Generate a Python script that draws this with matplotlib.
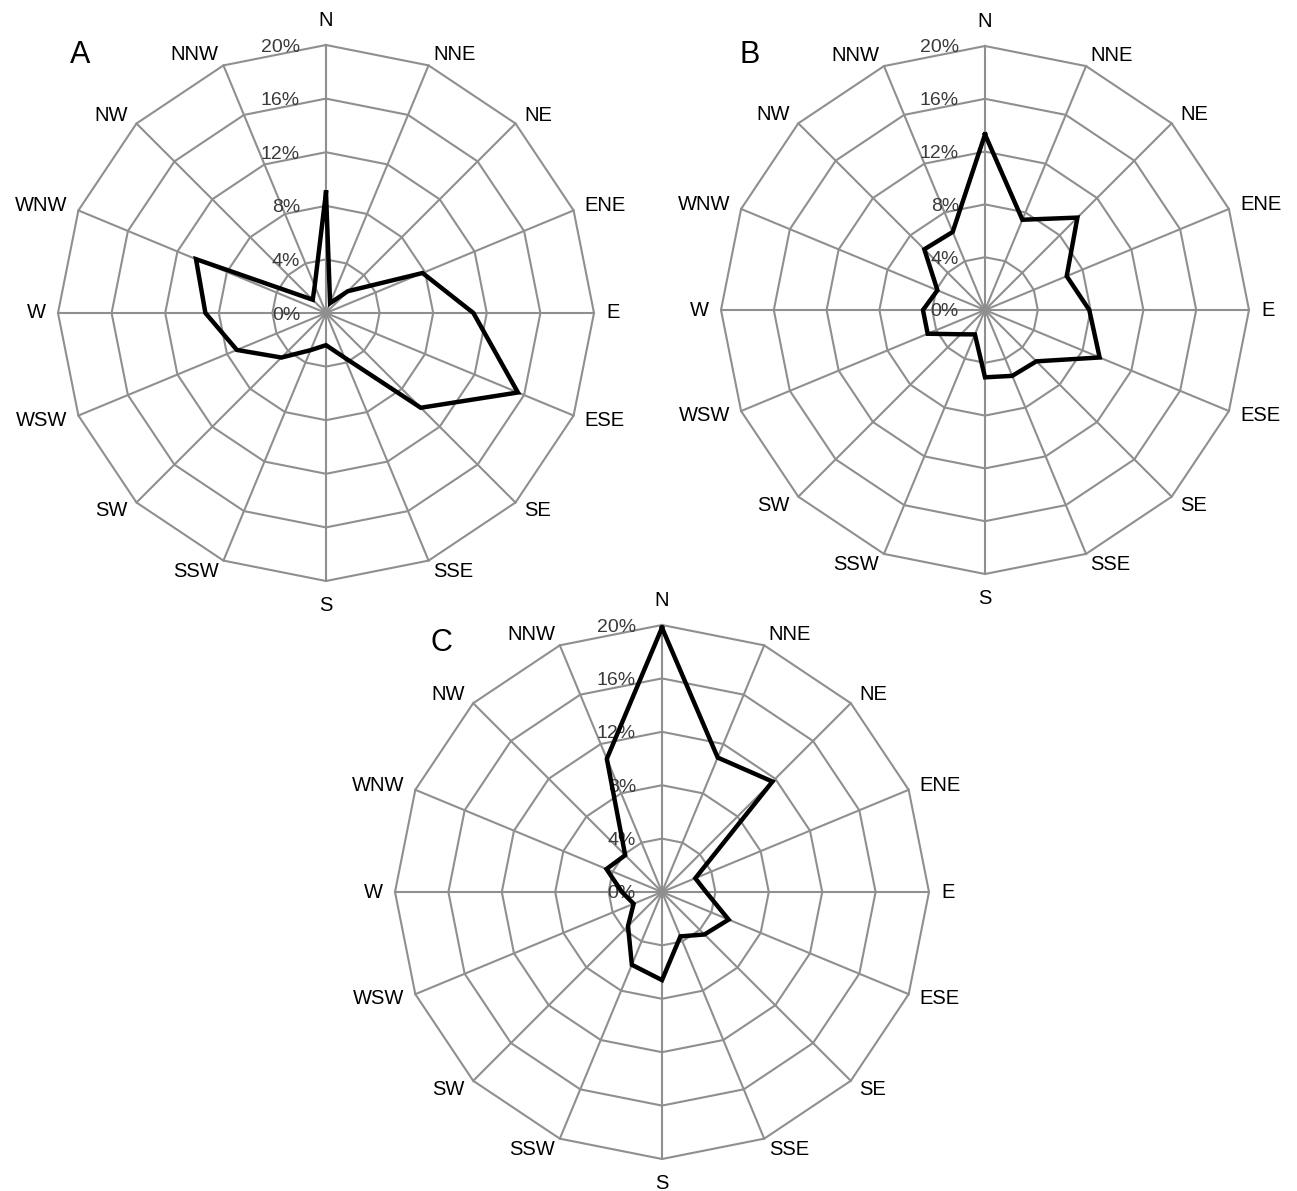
import numpy as np
import matplotlib
matplotlib.use('Agg')
import matplotlib.pyplot as plt

plt.rcParams['font.family'] = ['Liberation Sans', 'DejaVu Sans']

# ============== DATA ==============
directions = ['N', 'NNE', 'NE', 'ENE', 'E', 'ESE', 'SE', 'SSE',
              'S', 'SSW', 'SW', 'WSW', 'W', 'WNW', 'NW', 'NNW']
rings = [4, 8, 12, 16, 20]
ring_ticks = [0, 4, 8, 12, 16, 20]

# frequency (%) per direction
freq_a = [9.0, 0.8, 2.3, 7.8, 11.0, 15.5, 10.0, 3.6, 2.4, 3.0, 4.7, 7.2, 9.0, 10.5, 1.4, 2.2]
freq_b = [13.3, 7.4, 9.9, 6.7, 7.9, 9.4, 5.5, 5.4, 5.1, 2.0, 2.6, 4.7, 4.7, 3.9, 6.5, 6.4]
freq_c = [19.8, 10.9, 11.7, 2.7, 3.3, 5.4, 4.5, 3.6, 6.6, 5.9, 3.6, 2.3, 3.0, 4.5, 3.9, 10.8]
# ==================================

W, H = 1297, 1191
fig = plt.figure(figsize=(W / 100, H / 100), dpi=100)
fig.patch.set_facecolor('white')

theta = np.linspace(0, 2 * np.pi, len(directions), endpoint=False)
theta_closed = np.append(theta, theta[0])
gray = '#8f8f8f'


def rose(cx, cy, rad, values, letter, lx, ly):
    # axes sized so that 20% sits at rad pixels from the centre
    half = rad * 21 / 20
    ax = fig.add_axes([(cx - half) / W, (H - cy - half) / H, 2 * half / W, 2 * half / H],
                      projection='polar')
    ax.set_theta_zero_location('N')
    ax.set_theta_direction(-1)
    ax.set_ylim(0, 21)
    ax.grid(False)
    ax.spines['polar'].set_visible(False)
    ax.set_xticks([])
    ax.set_yticks([])
    ax.patch.set_alpha(0)

    # polygon rings and spokes
    for r in rings:
        ax.plot(theta_closed, [r] * len(theta_closed), color=gray, lw=1.5, zorder=1)
    for t in theta:
        ax.plot([t, t], [0, rings[-1]], color=gray, lw=1.5, zorder=1)

    # data
    v = np.append(values, values[0])
    ax.plot(theta_closed, v, color='black', lw=3.2, solid_joinstyle='miter', zorder=3)

    # percent labels along the N spoke
    for r in ring_ticks:
        ax.annotate('%d%%' % r, xy=(0, r), xytext=(-26, -2), textcoords='offset pixels',
                    ha='right', va='center', color='#3a3a3a', fontsize=14,
                    annotation_clip=False, zorder=2)

    # direction labels
    for t, name in zip(theta, directions):
        s, c = np.sin(t), np.cos(t)
        if abs(s) < 0.01:
            ha = 'center'
            va = 'bottom' if c > 0 else 'top'
            off = (0, 15 * c)
        else:
            ha = 'left' if s > 0 else 'right'
            va = 'center'
            off = (12 * s, 12 * c)
        ax.annotate(name, xy=(t, rings[-1]), xytext=off, textcoords='offset pixels',
                    ha=ha, va=va, fontsize=14.5, color='black', annotation_clip=False)

    fig.text(lx / W, 1 - ly / H, letter, fontsize=22, ha='center', va='center')


rose(326, 313, 268, freq_a, 'A', 80, 55)
rose(985, 310, 264, freq_b, 'B', 750, 55)
rose(662, 892, 267, freq_c, 'C', 441, 643)

fig.savefig('out.png', dpi=100, facecolor='white')
